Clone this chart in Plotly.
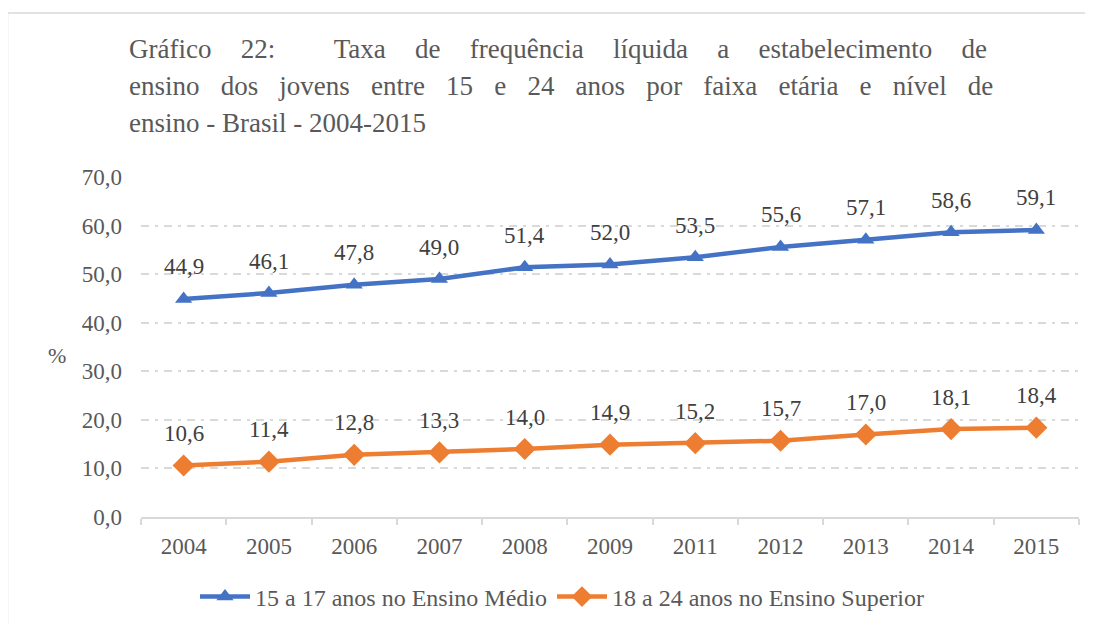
import plotly.graph_objects as go

anos = ["2004", "2005", "2006", "2007", "2008", "2009", "2011", "2012", "2013", "2014", "2015"]
medio = [44.9, 46.1, 47.8, 49.0, 51.4, 52.0, 53.5, 55.6, 57.1, 58.6, 59.1]
superior = [10.6, 11.4, 12.8, 13.3, 14.0, 14.9, 15.2, 15.7, 17.0, 18.1, 18.4]
nome_medio = "15 a 17 anos no Ensino Médio"
nome_superior = "18 a 24 anos no Ensino Superior"
titulo = [
    "Gráfico 22:  Taxa de frequência líquida a estabelecimento de",
    "ensino dos jovens entre 15 e 24 anos por faixa etária e nível de",
    "ensino - Brasil - 2004-2015",
]
y_ticks = [0, 10, 20, 30, 40, 50, 60, 70]

FONT = "Liberation Serif"
BLUE = "#4472C4"
ORANGE = "#ED7D31"

# extra spacing used to imitate the justified title lines
JUST = [" \u2002\u2004", " \u2004\u2009", " "]

OFF = 8
def sx(x):
    return x - OFF

L = sx(141)
T = sx(177)
R = 1093 - sx(1079)
B = 624 - sx(517)
W = 1093 - L - R
H = 624 - T - B
def px(xs):
    return (sx(xs) - L) / W
def py(ys):
    return (624 - B - sx(ys)) / H

fig = go.Figure()
fig.add_trace(go.Scatter(
    x=anos, y=medio, name=nome_medio, mode="lines+markers",
    line=dict(color=BLUE, width=4.5),
    marker=dict(symbol="triangle-up", size=15, color=BLUE),
))
fig.add_trace(go.Scatter(
    x=anos, y=superior, name=nome_superior, mode="lines+markers",
    line=dict(color=ORANGE, width=4.5),
    marker=dict(symbol="diamond", size=17, color=ORANGE),
))

annotations = []
for serie in (medio, superior):
    for i, v in enumerate(serie):
        annotations.append(dict(
            x=i, y=v, xref="x", yref="y", text=f"{v:.1f}".replace(".", ","),
            showarrow=False, yshift=32,
            font=dict(family=FONT, size=23, color="#404040"),
        ))

for i, line in enumerate(titulo):
    words = line.split(" ")
    txt = JUST[i].join(words)
    annotations.append(dict(
        x=px(127), y=py(66 + i * 37), xref="paper", yref="paper",
        xanchor="left", yanchor="bottom", text=txt, showarrow=False,
        font=dict(family=FONT, size=27, color="#595959"),
    ))

annotations.append(dict(
    x=px(46), y=py(355), xref="paper", yref="paper", text="%", showarrow=False,
    font=dict(family=FONT, size=22, color="#595959"),
))

fig.update_layout(
    width=1093, height=624,
    margin=dict(l=L, r=R, t=T, b=B),
    paper_bgcolor="white", plot_bgcolor="white",
    separators=",.",
    showlegend=True,
    legend=dict(
        orientation="h", x=px(562), xanchor="center", y=py(597), yanchor="middle",
        font=dict(family=FONT, size=24, color="#595959"),
        itemwidth=50,
    ),
    annotations=annotations,
    shapes=[dict(
        type="rect", xref="paper", yref="paper",
        x0=px(7.5), x1=px(1110), y0=py(640), y1=py(13),
        line=dict(color="#d9d9d9", width=1.5), layer="below",
    )],
    xaxis=dict(
        type="category", range=[-0.5, len(anos) - 0.5],
        showgrid=False, showline=True, linecolor="#d9d9d9", linewidth=1.5,
        ticks="outside", tickson="boundaries", ticklen=6, tickcolor="#d9d9d9", tickwidth=1.5,
        tickangle=0, ticklabelstandoff=8,
        tickfont=dict(family=FONT, size=23, color="#595959"),
    ),
    yaxis=dict(
        range=[0, 70], tickvals=y_ticks, tickformat=".1f",
        showgrid=True, gridcolor="#d9d9d9", gridwidth=1.5, griddash="8px,6px,3px,6px",
        zeroline=False, showline=False, ticks="",
        ticklabelstandoff=18,
        tickfont=dict(family=FONT, size=23, color="#595959"),
    ),
)

fig.write_html("out.html")
